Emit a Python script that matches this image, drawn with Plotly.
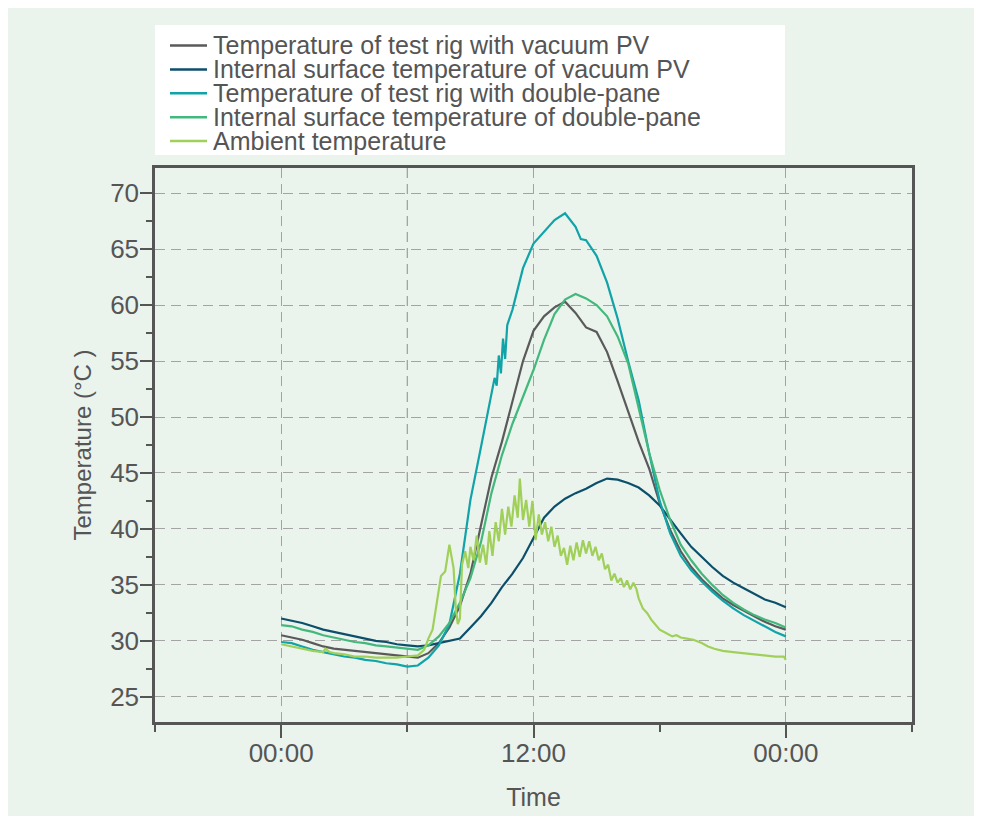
import plotly.graph_objects as go

# ---------------- data (hours since midnight, °C) ----------------
hours = [0, 0.5, 1, 1.5, 2, 2.5, 3, 3.5, 4, 4.5, 5, 5.5, 6, 6.5, 7, 7.5, 8, 8.5, 9, 9.5,
         10, 10.5, 11, 11.5, 12, 12.5, 13, 13.5, 14, 14.5, 15, 15.5, 16, 16.5, 17, 17.5,
         18, 18.5, 19, 19.5, 20, 20.5, 21, 21.5, 22, 22.5, 23, 23.5, 24]

rig_vacuum = [30.5, 30.3, 30.1, 29.8, 29.5, 29.3, 29.2, 29.1, 29.0, 28.9, 28.8, 28.7, 28.6, 28.5,
              28.9, 29.8, 31.2, 33.1, 36.0, 40.3, 44.6, 47.8, 51.3, 55.0, 57.7, 59.0, 59.8, 60.3,
              59.3, 58.0, 57.6, 55.8, 53.2, 50.5, 47.8, 45.4, 42.3, 39.9, 38.0, 36.6, 35.5, 34.6,
              33.8, 33.2, 32.7, 32.2, 31.7, 31.3, 31.0]

surf_vacuum = [32.0, 31.8, 31.6, 31.3, 31.0, 30.8, 30.6, 30.4, 30.2, 30.0, 29.9, 29.7, 29.6, 29.5,
               29.6, 29.8, 30.0, 30.2, 31.2, 32.2, 33.4, 34.8, 36.0, 37.4, 39.2, 41.0, 42.0, 42.7,
               43.2, 43.6, 44.1, 44.5, 44.4, 44.1, 43.7, 43.0, 42.1, 40.8, 39.6, 38.4, 37.5, 36.6,
               35.8, 35.2, 34.7, 34.2, 33.7, 33.4, 33.0]

hours_dp = [0, 0.5, 1, 1.5, 2, 2.5, 3, 3.5, 4, 4.5, 5, 5.5, 6, 6.5, 7, 7.5, 8, 8.5, 9, 9.5,
            10, 10.15, 10.25, 10.35, 10.45, 10.55, 10.65, 10.75, 11, 11.5, 12, 12.5, 13, 13.5,
            14, 14.25, 14.5, 15, 15.5, 16, 16.5, 17, 17.5, 18, 18.5, 19, 19.5, 20, 20.5, 21,
            21.5, 22, 22.5, 23, 23.5, 24]
rig_double = [29.9, 29.8, 29.5, 29.2, 29.0, 28.8, 28.6, 28.5, 28.3, 28.2, 28.0, 27.9, 27.7, 27.8,
              28.5, 29.6, 31.5, 36.0, 42.6, 47.3, 52.0, 53.5, 52.8, 55.5, 53.9, 57.0, 55.2, 58.2,
              59.6, 63.3, 65.5, 66.6, 67.6, 68.2, 67.0, 65.9, 65.8, 64.4, 62.0, 58.8, 55.0, 51.5,
              46.8, 42.5, 39.6, 37.6, 36.3, 35.3, 34.4, 33.6, 32.9, 32.3, 31.8, 31.3, 30.8, 30.4]

surf_double = [31.4, 31.3, 31.0, 30.8, 30.5, 30.3, 30.1, 29.9, 29.8, 29.6, 29.5, 29.4, 29.3, 29.2,
               29.6, 30.4, 31.6, 33.4, 35.6, 38.8, 43.2, 46.6, 49.4, 51.8, 54.2, 56.9, 59.2, 60.5,
               61.0, 60.6, 60.0, 59.0, 57.2, 54.8, 50.8, 46.8, 43.5, 40.8, 38.6, 37.2, 36.0, 35.0,
               34.1, 33.4, 32.8, 32.3, 31.9, 31.6, 31.2]

hours_amb = [0, 0.5, 1, 1.5, 2, 2.1, 2.3, 2.5, 3, 3.5, 4, 4.5, 5, 5.5, 6, 6.5, 6.8, 7.0, 7.2, 7.4,
             7.6, 7.8, 8.0, 8.2, 8.3, 8.4, 8.5, 8.6, 8.75, 8.9, 9.0, 9.15, 9.3, 9.45, 9.6, 9.75,
             9.9, 10.05, 10.2, 10.35, 10.5, 10.65, 10.8, 10.95, 11.1, 11.25, 11.35, 11.5, 11.65,
             11.8, 11.95, 12.1, 12.25, 12.4, 12.55, 12.7, 12.85, 13.0, 13.15, 13.3, 13.45, 13.6,
             13.75, 13.9, 14.05, 14.2, 14.35, 14.5, 14.65, 14.8, 14.95, 15.1, 15.25, 15.4, 15.55,
             15.7, 15.85, 16.0, 16.15, 16.3, 16.45, 16.6, 16.75, 16.9, 17.0, 17.2, 17.4, 17.6,
             17.8, 18.0, 18.3, 18.6, 18.8, 19.0, 19.3, 19.6, 20.0, 20.3, 20.6, 21.0, 21.5, 22.0,
             22.5, 23.0, 23.5, 23.9, 24.0]
ambient = [29.7, 29.5, 29.3, 29.1, 29.0, 29.3, 29.0, 28.9, 28.8, 28.6, 28.6, 28.5, 28.5, 28.5,
           28.6, 28.7, 29.2, 30.2, 31.0, 33.5, 35.8, 36.2, 38.6, 36.5, 33.0, 31.5, 32.0, 36.8,
           38.0, 36.5, 38.4, 37.2, 39.4, 37.0, 38.6, 36.8, 39.8, 37.6, 40.6, 38.9, 41.8, 39.5,
           42.0, 40.2, 43.0, 41.0, 44.5, 40.8, 42.6, 40.2, 42.5, 39.0, 41.3, 39.5, 40.6, 38.9,
           40.2, 38.4, 39.4, 37.6, 38.3, 36.8, 38.5, 37.2, 38.8, 37.5, 39.0, 37.8, 38.9, 37.6,
           38.4, 37.2, 37.8, 36.4, 36.8, 35.4, 36.0, 35.2, 35.6, 34.8, 35.4, 34.6, 35.2, 34.6,
           33.8, 32.9, 32.5, 31.9, 31.4, 31.0, 30.7, 30.4, 30.5, 30.3, 30.2, 30.1, 29.8, 29.5,
           29.3, 29.1, 29.0, 28.9, 28.8, 28.7, 28.6, 28.6, 28.3]

series_names = ["Temperature of test rig with vacuum PV",
                "Internal surface temperature of vacuum PV",
                "Temperature of test rig with double-pane",
                "Internal surface temperature of double-pane",
                "Ambient temperature"]
series_x = [hours, hours, hours_dp, hours, hours_amb]
series_y = [rig_vacuum, surf_vacuum, rig_double, surf_double, ambient]
series_colors = ["#5a5a5a", "#0c4f6b", "#10a3a8", "#43b87c", "#a0d05a"]

x_tickvals = [0, 12, 24]
x_ticktext = ["00:00", "12:00", "00:00"]
x_minor = [-6, 6, 18, 30]
y_tickvals = [25, 30, 35, 40, 45, 50, 55, 60, 65, 70]
y_minor = [27.5, 32.5, 37.5, 42.5, 47.5, 52.5, 57.5, 62.5, 67.5]

# ---------------- layout geometry (figure pixels; page adds 8px body margin) ----------------
W, H = 970, 808
L, T = 147, 160
R, B = W - 904, H - 714
PW, PH = W - L - R, H - T - B
FONT = "Liberation Sans, Arial, sans-serif"
TXT = "#555555"
BG = "#ebf3ed"
GRID = "#a3a3a3"


def px_x(x):
    return (x - L) / PW


def px_y(y):
    return (H - B - y) / PH


fig = go.Figure()
for name, xs, ys, col in zip(series_names, series_x, series_y, series_colors):
    fig.add_trace(go.Scatter(x=xs, y=ys, mode="lines", name=name,
                             line=dict(color=col, width=2.2), showlegend=False))

# manual legend (white box, line samples, labels)
shapes = [dict(type="rect", xref="paper", yref="paper",
               x0=px_x(147), x1=px_x(777), y0=px_y(147), y1=px_y(17),
               fillcolor="white", line=dict(width=0), layer="below")]
annotations = []
for i, (name, col) in enumerate(zip(series_names, series_colors)):
    yy = 37.5 + 23.9 * i
    shapes.append(dict(type="line", xref="paper", yref="paper",
                       x0=px_x(162), x1=px_x(199), y0=px_y(yy), y1=px_y(yy),
                       line=dict(color=col, width=2.5)))
    annotations.append(dict(text=name, xref="paper", yref="paper", x=px_x(203), y=px_y(yy),
                            xanchor="left", yanchor="middle", showarrow=False,
                            font=dict(family=FONT, size=25, color=TXT)))

# vertical dashed gridline at 06:00
shapes.append(dict(type="line", xref="x", yref="paper", x0=6, x1=6, y0=0, y1=1,
                   line=dict(color=GRID, width=1.3, dash="10px,6px"), layer="below"))

fig.update_layout(
    width=W, height=H,
    margin=dict(l=L, r=R, t=T, b=B, autoexpand=False),
    paper_bgcolor=BG, plot_bgcolor=BG,
    font=dict(family=FONT, size=24, color=TXT),
    shapes=shapes, annotations=annotations,
    showlegend=False,
)
fig.update_xaxes(
    range=[-6, 30], tickvals=x_tickvals, ticktext=x_ticktext,
    ticks="outside", ticklen=13, tickwidth=2, tickcolor=TXT,
    tickfont=dict(family=FONT, size=26, color=TXT), ticklabelstandoff=-7,
    showline=True, linecolor=TXT, linewidth=2.5, mirror=True,
    showgrid=True, gridcolor=GRID, gridwidth=1.3, griddash="10px,6px",
    zeroline=False,
    minor=dict(tickvals=x_minor, ticks="outside", ticklen=7, tickwidth=2,
               tickcolor=TXT, showgrid=False),
    title=dict(text="Time", font=dict(family=FONT, size=25, color=TXT), standoff=22),
)
fig.update_yaxes(
    range=[22.75, 72.25], tickvals=y_tickvals,
    ticks="outside", ticklen=12, tickwidth=2, tickcolor=TXT,
    tickfont=dict(family=FONT, size=26, color=TXT), ticklabelstandoff=-4,
    showline=True, linecolor=TXT, linewidth=2.5, mirror=True,
    showgrid=True, gridcolor=GRID, gridwidth=1.3, griddash="10px,6px",
    zeroline=False,
    minor=dict(tickvals=y_minor, ticks="outside", ticklen=6, tickwidth=2,
               tickcolor=TXT, showgrid=False),
    title=dict(text="Temperature (°C )", font=dict(family=FONT, size=24, color=TXT),
               standoff=12),
)

fig.write_html("out.html")
